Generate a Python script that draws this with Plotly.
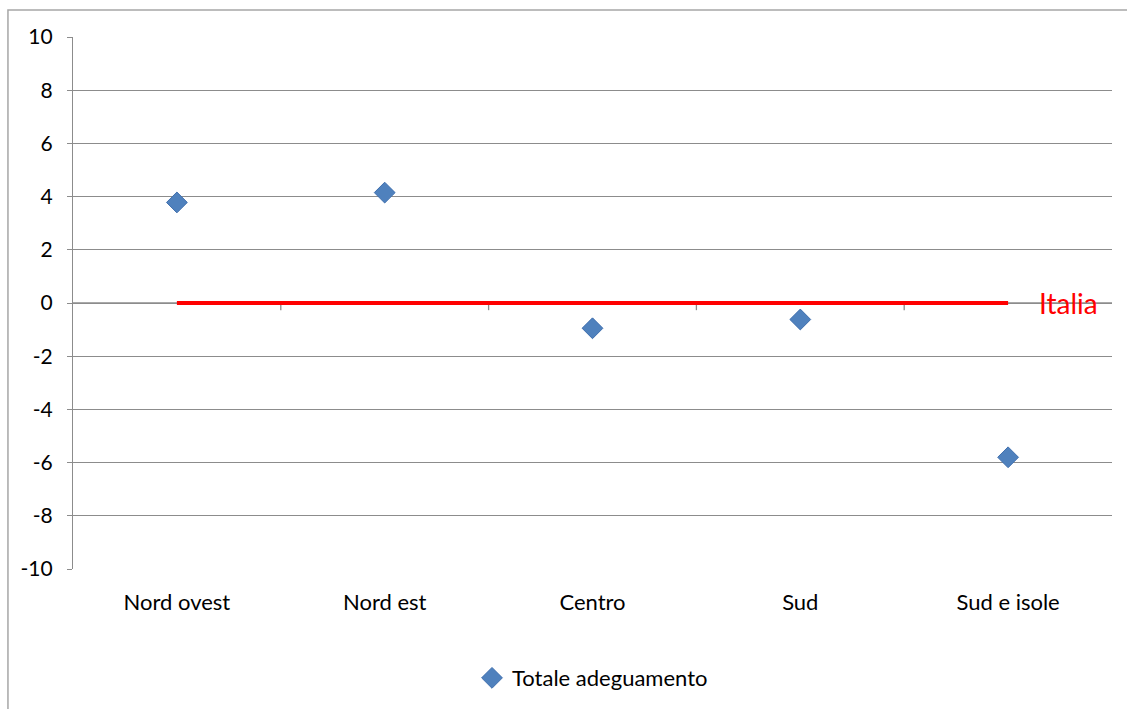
import plotly.graph_objects as go

# Regional deviation from the national figure
categories = ["Nord ovest", "Nord est", "Centro", "Sud", "Sud e isole"]
values = [3.78, 4.15, -0.95, -0.62, -5.8]
series_name = "Totale adeguamento"
reference_label = "Italia"
reference_value = 0
y_ticks = [-10, -8, -6, -4, -2, 0, 2, 4, 6, 8, 10]
y_tick_text = [str(v) for v in y_ticks]

x_pos = list(range(len(categories)))
FONT = "Lato, Calibri, sans-serif"
GRID = "#8c8c8c"

fig = go.Figure()

# National reference line across the categories
fig.add_trace(go.Scatter(
    x=[x_pos[0], x_pos[-1]], y=[reference_value, reference_value],
    mode="lines", line=dict(color="#ff0000", width=4),
    showlegend=False, hoverinfo="skip",
))

fig.add_trace(go.Scatter(
    x=x_pos, y=values, mode="markers", name=series_name,
    marker=dict(symbol="diamond", size=16, color="#4f81bd",
                line=dict(color="#3f6fae", width=1)),
))

# Horizontal axis running along zero, with boundary tick marks
shapes = [
    dict(type="line", xref="paper", yref="y", x0=0, x1=1, y0=0, y1=0,
         line=dict(color=GRID, width=1.3), layer="below"),
]
for i in range(len(categories) - 1):
    shapes.append(dict(type="line", xref="x", yref="y", x0=i + 0.5, x1=i + 0.5,
                       y0=0, y1=-0.27, line=dict(color=GRID, width=1.3), layer="below"))
# Chart frame
shapes.append(dict(type="rect", xref="paper", yref="paper",
                   x0=-0.0626, x1=1.2, y0=-0.5, y1=1.0508,
                   line=dict(color="#a6a6a6", width=1.5), fillcolor="rgba(0,0,0,0)"))

fig.update_layout(
    width=1127, height=709,
    margin=dict(l=73, r=15, t=37, b=140, autoexpand=False),
    paper_bgcolor="white", plot_bgcolor="white",
    font=dict(family=FONT, size=21, color="#000000"),
    shapes=shapes,
    showlegend=True,
    legend=dict(orientation="h", x=0.5, xanchor="center", y=-0.205, yanchor="middle",
                font=dict(family=FONT, size=22, color="#000000"), itemwidth=30),
    annotations=[dict(x=x_pos[-1] + 0.14, y=reference_value, xref="x", yref="y",
                      text=reference_label, showarrow=False, xanchor="left",
                      font=dict(family=FONT, size=28, color="#ff0000"))],
)

fig.update_xaxes(
    range=[-0.5, len(categories) - 0.5],
    tickvals=x_pos, ticktext=categories,
    showgrid=False, zeroline=False, showline=False,
    ticks="", ticklabelstandoff=18, automargin=False,
    tickfont=dict(family=FONT, size=22, color="#000000"),
)
fig.update_yaxes(
    range=[-10, 10], tickvals=y_ticks, ticktext=y_tick_text,
    showgrid=True, gridcolor=GRID, gridwidth=1.3,
    zeroline=False, showline=True, linecolor=GRID, linewidth=1.3,
    ticks="outside", ticklen=5, tickcolor=GRID, tickwidth=1.3,
    ticklabelstandoff=10, automargin=False,
    tickfont=dict(family=FONT, size=21, color="#000000"),
)

fig.write_html("out.html")
